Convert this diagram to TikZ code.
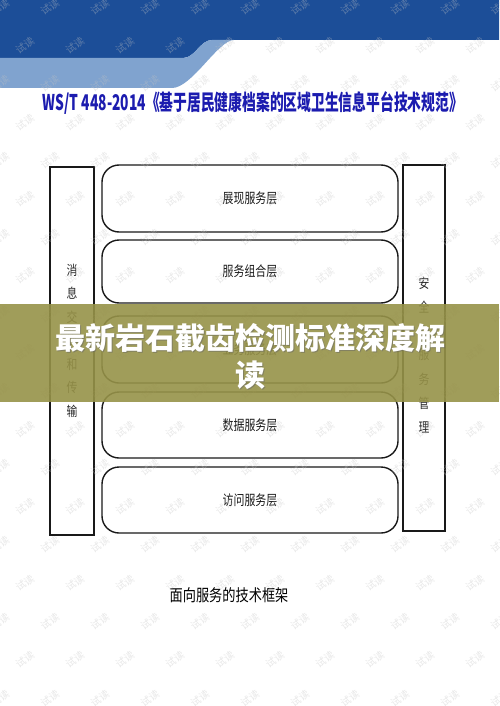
\documentclass[tikz,border=0pt]{standalone}
\usepackage{fontspec}
\newfontfamily\cjk{Noto Sans CJK SC}
\definecolor{hdark}{RGB}{28,78,152}
\definecolor{hlight}{RGB}{128,163,207}
\definecolor{titleblue}{RGB}{28,28,175}
\definecolor{bannerc}{RGB}{150,146,72}
\definecolor{wm}{RGB}{195,195,195}
\tikzset{
 layer/.style={draw=black!90, line width=1.4pt, rounded corners=17pt, minimum width=296pt, inner sep=0pt,
   font=\cjk\fontsize{14}{14}\selectfont, text=black!90},
 sidebar/.style={draw=black!90, line width=1.2pt, inner sep=0pt},
 vchar/.style={font=\cjk\fontsize{13.5}{13.5}\selectfont, text=black!85, inner sep=0pt},
 wmark/.style={font=\cjk\fontsize{10}{10}\selectfont, text=wm, opacity=0.4, rotate=35, inner sep=0pt},
}
\begin{document}
\begin{tikzpicture}[x=1pt,y=-1pt]
\useasboundingbox (0,0) rectangle (499,706);
% header
\fill[hdark] (0,0) -- (499,0) -- (499,40) -- (212,40) .. controls (200,40) and (195,58) .. (183,58) -- (0,58) -- cycle;
\fill[hlight] (0,58) -- (183,58) .. controls (195,58) and (200,40) .. (212,40) -- (234,40) .. controls (218,40) and (192,88) .. (172,88) -- (0,88) -- cycle;
% title
\node[text=titleblue, inner sep=0pt] (title) at (253,103)
  {\resizebox{420pt}{19pt}{\cjk\bfseries WS/T 448-2014《基于居民健康档案的区域卫生信息平台技术规范》}};
% side bars
\node[sidebar, minimum width=44pt, minimum height=368pt] (left) at (72,351) {};
\node[sidebar, minimum width=42pt, minimum height=366pt] (right) at (424,348) {};
% layers
\node[layer, minimum height=67pt] (l1) at (250,198.5) {\scalebox{0.78}[1]{展现服务层}};
\node[layer, minimum height=63pt] (l2) at (250,271.5) {\scalebox{0.78}[1]{服务组合层}};
\node[layer, minimum height=67pt] (l3) at (250,349.5) {\raisebox{-4pt}{\scalebox{0.78}[1]{业务服务层}}};
\node[layer, minimum height=66pt] (l4) at (250,425) {\scalebox{0.78}[1]{数据服务层}};
\node[layer, minimum height=66pt] (l5) at (250,500) {\scalebox{0.78}[1]{访问服务层}};
% vertical texts
\foreach \c [count=\n from 0] in {消,息,交,换,和,传,输}
  \node[vchar] (lc\n) at (72,270+23.5*\n) {\scalebox{0.8}[1]{\c}};
\node[vchar] (rc0) at (424,283) {\scalebox{0.8}[1]{安}};
\node[vchar] (rc1) at (424,307) {\scalebox{0.8}[1]{全}};
\node[vchar] (rc2) at (424,355) {\scalebox{0.8}[1]{服}};
\node[vchar] (rc3) at (424,379) {\scalebox{0.8}[1]{务}};
\node[vchar] (rc4) at (424,403) {\scalebox{0.8}[1]{管}};
\node[vchar] (rc5) at (424,427) {\scalebox{0.8}[1]{理}};
% caption
\node[inner sep=0pt, font=\cjk\fontsize{16.5}{16.5}\selectfont, text=black] (cap) at (229,595) {\scalebox{0.8}[1]{面向服务的技术框架}};
% watermarks
\foreach \k in {0,...,18}
  \foreach \i in {0,...,10}
    \node[wmark] (wm-\k-\i) at ({50*\i+25*mod(\k,2)},{7+38.4*\k}) {试读};
% banner
\fill[bannerc, opacity=0.9] (0,304) rectangle (499,402);
\node[align=center, text=black!60, opacity=0.5, inner sep=0pt, font=\cjk\bfseries\fontsize{30}{37}\selectfont] (bannersh) at (251,358)
  {最新岩石截齿检测标准深度解\\读};
\node[align=center, text=white, inner sep=0pt, font=\cjk\bfseries\fontsize{30}{37}\selectfont] (banner) at (250,357)
  {最新岩石截齿检测标准深度解\\读};
\end{tikzpicture}
\end{document}
